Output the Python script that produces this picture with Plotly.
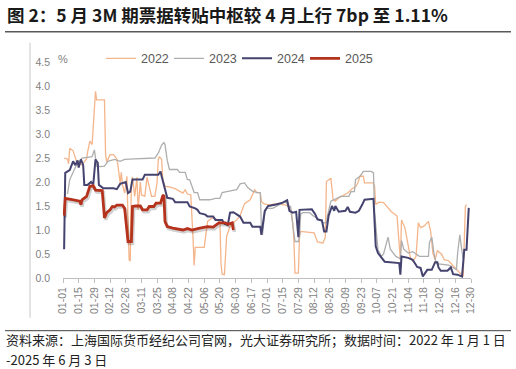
import plotly.graph_objects as go

# ---------------- data (day-of-year on a common leap-year calendar) ----------------
tick_days = [1, 15, 29, 43, 57, 71, 85, 99, 113, 127, 141, 155, 169, 183, 197, 211,
             225, 239, 253, 267, 281, 295, 309, 323, 337, 351, 365]
tick_labels = ["01-01", "01-15", "01-29", "02-12", "02-26", "03-11", "03-25", "04-08",
               "04-22", "05-06", "05-20", "06-03", "06-17", "07-01", "07-15", "07-29",
               "08-12", "08-26", "09-09", "09-23", "10-07", "10-21", "11-04", "11-18",
               "12-02", "12-16", "12-30"]

days_2022 = [2, 5, 6, 7, 10, 12, 14, 18, 22, 23, 25, 27, 28, 30, 31, 38, 39, 40, 43, 46,
             49, 50, 52, 53, 54, 56, 58, 59, 60, 61, 62, 63, 64, 65, 67, 68, 70, 71, 74, 76,
             78, 80, 83, 85, 86, 87, 89, 90, 92, 96, 101, 105, 108, 110, 112, 115, 116, 117, 118, 119,
             127, 129, 130, 134, 138, 141, 142, 143, 145, 147, 150, 153, 156, 159, 161, 163, 168, 170, 172, 174,
             177, 178, 180, 185, 191, 200, 204, 206, 207, 208, 211, 212, 213, 225, 227, 228, 233, 235, 236, 240,
             242, 244, 247, 251, 255, 259, 262, 264, 266, 269, 270, 278, 279, 280, 283, 287, 290, 294, 299, 300,
             302, 303, 306, 308, 311, 313, 316, 318, 320, 323, 326, 327, 329, 331, 333, 335, 339, 341, 345, 348,
             352, 355, 358, 360, 361]
vals_2022 = [2.50, 2.48, 2.38, 2.70, 2.65, 2.50, 2.36, 2.36, 2.48, 2.63, 2.85, 2.78, 3.09, 3.89, 3.71, 3.71, 2.57, 2.42, 2.57, 2.57,
             2.48, 2.35, 1.98, 2.20, 1.95, 1.77, 2.12, 1.36, 0.38, 0.35, 1.98, 2.10, 1.90, 1.70, 2.10, 1.42, 2.00, 1.73, 1.70, 2.10,
             1.90, 1.70, 1.70, 2.00, 2.47, 2.53, 2.47, 2.05, 1.91, 1.90, 1.86, 1.80, 1.77, 1.84, 1.75, 1.73, 1.35, 0.84, 0.26, 0.64,
             0.64, 1.07, 1.18, 1.25, 1.22, 1.18, 0.28, 0.08, 0.07, 0.87, 1.07, 1.15, 1.21, 1.30, 1.42, 1.55, 1.63, 1.73, 1.84, 1.78,
             1.78, 1.60, 1.55, 1.52, 1.55, 1.52, 1.45, 1.15, 0.78, 0.10, 0.10, 0.87, 0.97, 0.94, 0.78, 0.75, 0.73, 0.85, 2.01, 2.08,
             1.63, 1.60, 1.67, 1.72, 1.77, 1.86, 1.90, 1.98, 2.12, 2.12, 1.98, 1.98, 1.91, 1.53, 1.58, 1.57, 1.48, 1.38, 1.29, 0.94,
             0.38, 1.21, 1.05, 0.80, 0.42, 0.35, 0.45, 1.15, 1.05, 1.08, 1.15, 1.18, 0.97, 0.52, 0.38, 0.57, 0.49, 0.38, 0.36, 0.28,
             0.17, 0.10, 0.03, 1.49, 1.53]

days_2023 = [5, 7, 12, 14, 18, 27, 29, 31, 34, 38, 41, 47, 52, 56, 65, 77, 83, 86, 89, 91,
             92, 94, 95, 96, 103, 105, 110, 112, 114, 116, 118, 121, 123, 132, 137, 141, 143, 147, 156, 159,
             163, 166, 170, 174, 177, 178, 179, 181, 183, 188, 193, 200, 202, 204, 206, 208, 211, 212, 213, 215,
             221, 224, 231, 233, 236, 237, 240, 243, 247, 249, 256, 258, 261, 262, 266, 269, 276, 278, 279, 282,
             285, 287, 291, 293, 298, 302, 303, 305, 309, 313, 316, 319, 327, 328, 330, 332, 334, 345, 349, 352,
             353, 355, 357, 358]
vals_2023 = [1.75, 2.05, 2.30, 2.40, 2.50, 2.53, 2.67, 2.33, 2.32, 2.33, 2.43, 2.47, 2.43, 2.47, 2.48, 2.50, 2.50, 2.60, 2.77, 2.82,
             2.78, 2.45, 2.33, 2.26, 2.26, 2.20, 2.20, 2.05, 2.05, 1.90, 1.78, 1.78, 1.63, 1.63, 1.66, 1.66, 1.78, 1.80, 1.84, 1.96,
             1.98, 1.88, 1.81, 1.78, 1.78, 1.07, 0.90, 1.36, 1.45, 1.45, 1.52, 1.60, 1.49, 1.49, 1.11, 0.76, 0.76, 0.86, 1.33, 1.36,
             1.36, 1.30, 1.20, 1.15, 1.15, 1.30, 1.60, 1.63, 1.67, 1.70, 1.70, 1.80, 1.80, 2.05, 2.12, 2.22, 2.22, 2.19, 1.36, 0.59,
             0.45, 0.50, 0.85, 0.60, 0.45, 0.40, 0.78, 0.60, 0.52, 0.55, 0.50, 0.45, 0.45, 0.75, 0.85, 0.50, 0.30, 0.27, 0.22, 0.17,
             0.50, 0.90, 0.55, 0.40]

days_2024 = [2, 3, 7, 10, 12, 14, 15, 17, 19, 20, 23, 26, 28, 30, 32, 33, 37, 46, 49, 52,
             57, 59, 61, 63, 72, 74, 86, 88, 89, 92, 94, 99, 101, 112, 114, 119, 121, 123, 128, 130,
             135, 137, 143, 145, 148, 150, 153, 159, 162, 168, 170, 177, 178, 181, 184, 191, 197, 201, 203, 206,
             209, 211, 212, 223, 226, 228, 232, 234, 236, 238, 241, 243, 244, 247, 253, 255, 257, 262, 265, 268,
             270, 278, 280, 282, 285, 288, 301, 302, 303, 309, 313, 317, 320, 322, 326, 330, 333, 335, 336, 338,
             344, 347, 349, 353, 357, 359, 361, 363]
vals_2024 = [0.60, 2.19, 2.25, 2.43, 2.35, 2.45, 2.30, 2.47, 2.35, 1.94, 1.94, 2.00, 1.95, 2.47, 2.40, 1.94, 1.87, 1.87, 1.85, 1.96,
             2.00, 1.77, 1.80, 2.05, 2.05, 2.15, 2.15, 2.22, 2.12, 1.84, 1.67, 1.65, 1.58, 1.58, 1.49, 1.45, 1.42, 1.35, 1.32, 1.28,
             1.28, 1.21, 1.21, 1.13, 1.10, 1.36, 1.37, 1.28, 1.15, 1.15, 1.07, 1.07, 0.90, 1.40, 1.50, 1.53, 1.57, 1.62, 1.40, 1.36,
             1.38, 0.85, 1.42, 1.43, 1.33, 1.22, 1.20, 0.97, 0.97, 1.30, 1.50, 1.40, 1.50, 1.38, 1.40, 1.48, 1.38, 1.36, 1.40, 1.53,
             1.63, 1.65, 0.66, 0.52, 0.42, 0.34, 0.31, 0.07, 0.45, 0.42, 0.38, 0.23, 0.21, 0.03, 0.17, 0.17, 0.33, 0.33, 0.22, 0.15,
             0.15, 0.22, 0.08, 0.07, 0.03, 0.59, 0.59, 1.46]

days_2025 = [2, 3, 8, 13, 16, 17, 18, 22, 23, 25, 28, 30, 36, 37, 38, 40, 43, 45, 47, 49,
             54, 56, 58, 59, 62, 63, 66, 70, 72, 76, 78, 82, 84, 88, 90, 91, 92, 94, 99, 105,
             108, 112, 116, 123, 130, 135, 137, 140, 146, 148, 152, 153]
vals_2025 = [1.30, 1.66, 1.64, 1.62, 1.60, 1.53, 1.63, 1.70, 1.77, 1.91, 1.92, 1.83, 1.82, 1.42, 1.25, 1.36, 1.42, 1.49, 1.48, 1.52,
             1.52, 1.45, 1.06, 0.76, 0.76, 1.49, 1.50, 1.50, 1.42, 1.42, 1.49, 1.49, 1.56, 1.56, 1.71, 1.73, 1.18, 1.07, 1.04, 1.02,
             1.00, 1.03, 1.00, 1.04, 1.07, 1.06, 1.10, 1.15, 1.15, 1.12, 1.15, 1.00]

y_ticks = [0.0, 0.5, 1.0, 1.5, 2.0, 2.5, 3.0, 3.5, 4.0, 4.5]

title_text = "图 2：5 月 3M 期票据转贴中枢较 4 月上行 7bp 至 1.11%"
source_line1 = "资料来源：上海国际货币经纪公司官网，光大证券研究所；数据时间：2022 年 1 月 1 日"
source_line2 = "-2025 年 6 月 3 日"

# ---------------- layout helpers (pixel -> paper) ----------------
W, H = 516, 369
PL, PR, PT, PB = 63, 471, 62.3, 278.3


def px2x(px):
    return (px - PL) / (PR - PL)


def py2y(py):
    return (PB - py) / (PB - PT)


CJK = "Noto Sans CJK SC"
NUM = "Liberation Sans"

fig = go.Figure()

fig.add_trace(go.Scatter(x=days_2022, y=vals_2022, mode="lines", name="2022",
                         line=dict(color="#F5B58A", width=1.3)))
fig.add_trace(go.Scatter(x=days_2023, y=vals_2023, mode="lines", name="2023",
                         line=dict(color="#AEAEAE", width=1.3)))
fig.add_trace(go.Scatter(x=days_2024, y=vals_2024, mode="lines", name="2024",
                         line=dict(color="#45436F", width=2.0)))
# soft shadow under the 2025 line
fig.add_trace(go.Scatter(x=[d + 1 for d in days_2025], y=[v - 0.04 for v in vals_2025],
                         mode="lines", showlegend=False, hoverinfo="skip",
                         line=dict(color="rgba(0,0,0,0.18)", width=3.5)))
fig.add_trace(go.Scatter(x=days_2025, y=vals_2025, mode="lines", name="2025",
                         line=dict(color="#B5321D", width=2.8)))

fig.update_layout(
    width=W, height=H,
    margin=dict(l=PL, r=W - PR, t=PT, b=H - PB),
    paper_bgcolor="white", plot_bgcolor="white",
    showlegend=True,
    legend=dict(orientation="h", x=px2x(101), y=py2y(44), xanchor="left", yanchor="top",
                font=dict(family=NUM, size=12.5, color="#595959"),
                entrywidth=23, entrywidthmode="pixels", itemwidth=30,
                bgcolor="rgba(0,0,0,0)", borderwidth=0, tracegroupgap=0),
    xaxis=dict(range=[1, 365], tickmode="array", tickvals=tick_days, ticktext=tick_labels,
               tickangle=-90, ticks="outside", ticklen=4, tickcolor="#BFBFBF",
               showline=True, linecolor="#BFBFBF", linewidth=1, showgrid=False, zeroline=False,
               tickfont=dict(family=NUM, size=10.5, color="#7F7F7F")),
    yaxis=dict(range=[0, 4.5], tickmode="array", tickvals=y_ticks,
               ticktext=[f"{v:.1f}" for v in y_ticks],
               showline=False, showgrid=False, zeroline=False, ticks="",
               ticklabelstandoff=12,
               tickfont=dict(family=NUM, size=10.5, color="#7F7F7F")),
)

annotations = [
    dict(text="<b>" + title_text + "</b>", x=px2x(5), y=py2y(15), xref="paper", yref="paper",
         xanchor="left", yanchor="middle", showarrow=False,
         font=dict(family=CJK, size=17.5, color="#1A1A1A")),
    dict(text="%", x=px2x(63), y=py2y(59), xref="paper", yref="paper",
         xanchor="center", yanchor="middle", showarrow=False,
         font=dict(family=NUM, size=11, color="#7F7F7F")),
    dict(text=source_line1, x=px2x(4), y=py2y(340), xref="paper", yref="paper",
         xanchor="left", yanchor="middle", showarrow=False,
         font=dict(family=CJK, size=13, color="#222222")),
    dict(text=source_line2, x=px2x(4), y=py2y(359.5), xref="paper", yref="paper",
         xanchor="left", yanchor="middle", showarrow=False,
         font=dict(family=CJK, size=13, color="#222222")),
]
fig.update_layout(annotations=annotations)

shapes = [
    dict(type="line", xref="paper", yref="paper", x0=px2x(5), x1=px2x(511),
         y0=py2y(32), y1=py2y(32), line=dict(color="#595959", width=1.5)),
    dict(type="line", xref="paper", yref="paper", x0=px2x(5), x1=px2x(511),
         y0=py2y(331), y1=py2y(331), line=dict(color="#404040", width=1)),
    dict(type="line", xref="paper", yref="paper", x0=px2x(30), x1=px2x(30),
         y0=py2y(43), y1=py2y(318), line=dict(color="#C8C8C8", width=1)),
]
fig.update_layout(shapes=shapes)

fig.write_html("out.html", config={"displayModeBar": False},
               post_script="document.body.style.margin='0';document.body.style.overflow='hidden';")
